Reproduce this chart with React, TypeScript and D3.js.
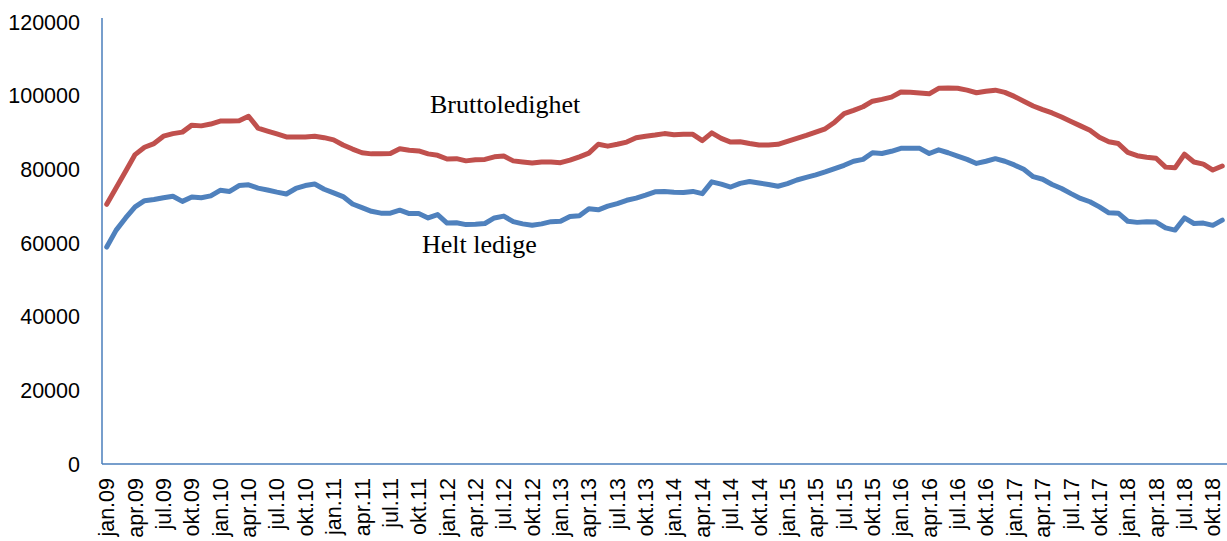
import React from "react";
import * as d3 from "d3";

const MARGINS = { top: 22, right: 0, bottom: 77, left: 102 };
const WIDTH = 1227;
const HEIGHT = 541;

const MONTHS = ["jan", "feb", "mar", "apr", "mai", "jun", "jul", "aug", "sep", "okt", "nov", "des"];
const YEARS = ["09", "10", "11", "12", "13", "14", "15", "16", "17", "18"];
const Y_TICKS = [0, 20000, 40000, 60000, 80000, 100000, 120000];

const bruttoledighet = [
  70500, 75000, 79500, 84000, 86000, 87000, 89000, 89700, 90100, 92000, 91800, 92300,
  93100, 93100, 93200, 94400, 91200, 90400, 89600, 88800, 88800, 88800, 89000, 88600,
  88000, 86600, 85500, 84500, 84200, 84200, 84300, 85600, 85200, 85000, 84200, 83800,
  82800, 82900, 82300, 82600, 82700, 83400, 83600, 82300, 82000, 81700, 82000, 82000,
  81800, 82500, 83400, 84400, 86800, 86300, 86800, 87400, 88600, 89000, 89300, 89700,
  89400, 89500, 89500, 87800, 89900, 88400, 87400, 87500, 87000, 86600, 86600, 86800,
  87600, 88400, 89200, 90100, 91000, 92800, 95100, 96000, 97000, 98500, 99000, 99600,
  101000, 100900, 100700, 100500, 102000, 102100, 102000, 101500, 100800, 101200, 101500, 100900,
  99800, 98500, 97200, 96200, 95300, 94200, 93000, 91800, 90600, 88700, 87500, 87000,
  84600, 83700, 83300, 83000, 80600, 80400, 84100, 82000, 81400, 79800, 80900,
];

const heltLedige = [
  58900, 63500, 66800, 69800, 71500, 71800, 72300, 72700, 71300, 72500, 72300, 72800,
  74300, 74000, 75600, 75800, 74900, 74400, 73800, 73300, 74800, 75600, 76000, 74600,
  73600, 72600, 70600, 69600, 68600, 68100, 68100, 68900, 68000, 68000, 66800, 67700,
  65400, 65500, 65000, 65100, 65300, 66800, 67300, 65800, 65200, 64800, 65200, 65800,
  65900, 67200, 67400, 69300, 69000, 70000, 70700, 71600, 72200, 73000, 73900, 74000,
  73800, 73700, 74000, 73400, 76600, 76000, 75200, 76200, 76700, 76300, 75900, 75400,
  76100, 77100, 77800, 78500, 79300, 80200, 81100, 82200, 82700, 84500, 84300, 84900,
  85700, 85700, 85700, 84300, 85300, 84500, 83600, 82700, 81600, 82200, 82900, 82200,
  81200, 80000, 78000, 77300, 75900, 74800, 73400, 72100, 71200, 69800, 68200, 68100,
  65900, 65600, 65800, 65700, 64100, 63500, 66800, 65300, 65400, 64800, 66200,
];

const categories = YEARS.flatMap((yr) => MONTHS.map((m) => `${m}.${yr}`)).slice(0, bruttoledighet.length);

const SERIES = [
  { name: "Bruttoledighet", values: bruttoledighet, color: "#C0504D", labelX: 430, labelY: 113 },
  { name: "Helt ledige", values: heltLedige, color: "#4F81BD", labelX: 422, labelY: 253 },
];

const LineChart = () => {
  const containerRef = React.useRef<SVGSVGElement>(null);

  React.useEffect(() => {
    const svg = d3.select(containerRef.current!);
    svg.selectAll("*").remove();

    const x = d3
      .scaleBand<string>()
      .domain(categories)
      .range([MARGINS.left, WIDTH - MARGINS.right])
      .padding(0);
    const cx = (c: string) => x(c)! + x.bandwidth() / 2;

    const y = d3
      .scaleLinear()
      .domain([0, 120000])
      .range([HEIGHT - MARGINS.bottom, MARGINS.top]);

    // y tick labels (no tick marks in the original)
    svg
      .append("g")
      .selectAll("text")
      .data(Y_TICKS)
      .enter()
      .append("text")
      .attr("x", 80)
      .attr("y", (d) => y(d))
      .attr("dy", "0.35em")
      .attr("text-anchor", "end")
      .attr("font-family", "'Liberation Sans', Arial, sans-serif")
      .attr("font-size", 21.5)
      .attr("fill", "#000")
      .text((d) => d);

    // x tick labels, every third month, rotated
    svg
      .append("g")
      .selectAll("text")
      .data(categories.filter((_, i) => i % 3 === 0))
      .enter()
      .append("text")
      .attr("transform", (d) => `translate(${cx(d)}, ${y(0) + 14}) rotate(-90)`)
      .attr("dy", "0.35em")
      .attr("text-anchor", "end")
      .attr("font-family", "'Liberation Sans', Arial, sans-serif")
      .attr("font-size", 21.5)
      .attr("fill", "#000")
      .text((d) => d);

    // axes lines
    svg
      .append("line")
      .attr("x1", MARGINS.left)
      .attr("x2", MARGINS.left)
      .attr("y1", y(120000) - 4)
      .attr("y2", y(0))
      .attr("stroke", "#4A7EBB")
      .attr("stroke-width", 1.5);
    svg
      .append("line")
      .attr("x1", MARGINS.left)
      .attr("x2", WIDTH)
      .attr("y1", y(0))
      .attr("y2", y(0))
      .attr("stroke", "#4A7EBB")
      .attr("stroke-width", 1.5);

    const line = d3
      .line<number>()
      .x((_, i) => cx(categories[i]))
      .y((d) => y(d));

    SERIES.forEach((s) => {
      svg
        .append("path")
        .datum(s.values)
        .attr("d", line)
        .attr("fill", "none")
        .attr("stroke", s.color)
        .attr("stroke-width", 5)
        .attr("stroke-linejoin", "round")
        .attr("stroke-linecap", "round");

      svg
        .append("text")
        .attr("x", s.labelX)
        .attr("y", s.labelY)
        .attr("font-family", "'Liberation Serif', 'Times New Roman', serif")
        .attr("font-size", 26)
        .attr("fill", "#000")
        .text(s.name);
    });
  }, []);

  return (
    <svg
      ref={containerRef}
      width={WIDTH}
      height={HEIGHT}
      style={{ position: "absolute", left: 0, top: 0, background: "#fff" }}
    />
  );
};

export default function App() {
  return <LineChart />;
}
